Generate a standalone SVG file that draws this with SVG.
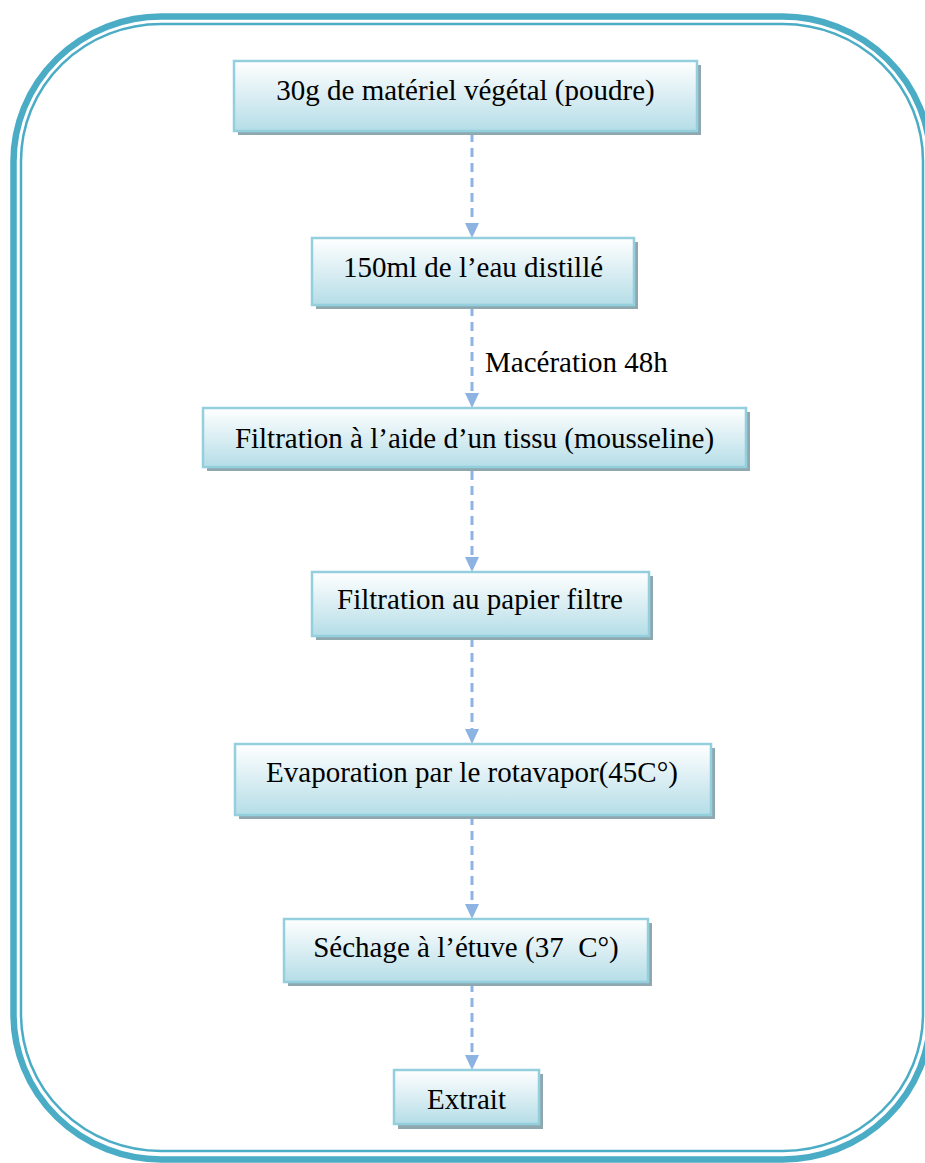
<svg xmlns="http://www.w3.org/2000/svg" width="925" height="1163" viewBox="0 0 925 1163">
  <defs>
    <linearGradient id="boxFill" x1="0" y1="0" x2="0" y2="1">
      <stop offset="0" stop-color="#ffffff"/>
      <stop offset="1" stop-color="#b5dde7"/>
    </linearGradient>
    <style>
      .frame-outer { fill: none; stroke: #4bacc6; stroke-width: 6.5; }
      .frame-inner { fill: none; stroke: #4bacc6; stroke-width: 2.5; }
      .shadow { fill: #8fa8b0; }
      .box { fill: url(#boxFill); stroke: #93cfdd; stroke-width: 2.5; }
      .label { font-family: "Liberation Serif", "Times New Roman", serif; font-size: 29px; fill: #000000; text-anchor: middle; }
      .edge-label { font-family: "Liberation Serif", "Times New Roman", serif; font-size: 29px; fill: #000000; }
      .conn { stroke: #8db3e2; stroke-width: 3; stroke-dasharray: 9 6; fill: none; }
      .head { fill: #8db3e2; }
    </style>
  </defs>
  <rect width="925" height="1163" fill="#ffffff"/>

  <g id="frame">
    <rect class="frame-outer" x="13.5" y="16.5" width="917" height="1143" rx="148" ry="145"/>
    <rect class="frame-inner" x="21" y="24" width="902" height="1127" rx="140" ry="137"/>
  </g>

  <g id="connectors">
    <line class="conn" x1="472" y1="133" x2="472" y2="223"/>
    <path class="head" d="M465,223 L479,223 L472,238 Z"/>
    <line class="conn" x1="472" y1="307" x2="472" y2="393"/>
    <path class="head" d="M465,393 L479,393 L472,408 Z"/>
    <line class="conn" x1="472" y1="471" x2="472" y2="557"/>
    <path class="head" d="M465,557 L479,557 L472,572 Z"/>
    <line class="conn" x1="472" y1="638" x2="472" y2="729"/>
    <path class="head" d="M465,729 L479,729 L472,744 Z"/>
    <line class="conn" x1="472" y1="816" x2="472" y2="904"/>
    <path class="head" d="M465,904 L479,904 L472,919 Z"/>
    <line class="conn" x1="472" y1="983" x2="472" y2="1055"/>
    <path class="head" d="M465,1055 L479,1055 L472,1070 Z"/>
    <text class="edge-label" x="485" y="372">Macération 48h</text>
  </g>

  <g id="node1">
    <rect class="shadow" x="238" y="65" width="463" height="70"/>
    <rect class="box" x="234" y="61" width="463" height="70"/>
    <text class="label" x="465.5" y="100">30g de matériel végétal (poudre)</text>
  </g>

  <g id="node2">
    <rect class="shadow" x="316" y="242" width="322" height="67"/>
    <rect class="box" x="312" y="238" width="322" height="67"/>
    <text class="label" x="473" y="277">150ml de l’eau distillé</text>
  </g>

  <g id="node3">
    <rect class="shadow" x="207" y="412" width="543" height="59"/>
    <rect class="box" x="203" y="408" width="543" height="59"/>
    <text class="label" x="474.5" y="448">Filtration à l’aide d’un tissu (mousseline)</text>
  </g>

  <g id="node4">
    <rect class="shadow" x="316" y="576" width="337" height="64"/>
    <rect class="box" x="312" y="572" width="337" height="64"/>
    <text class="label" x="480" y="609">Filtration au papier filtre</text>
  </g>

  <g id="node5">
    <rect class="shadow" x="239" y="748" width="476" height="71"/>
    <rect class="box" x="235" y="744" width="476" height="71"/>
    <text class="label" x="472" y="782">Evaporation par le rotavapor(45C°)</text>
  </g>

  <g id="node6">
    <rect class="shadow" x="288" y="923" width="364" height="63"/>
    <rect class="box" x="284" y="919" width="364" height="63"/>
    <text class="label" x="466" y="957" xml:space="preserve">Séchage à l’étuve (37  C°)</text>
  </g>

  <g id="node7">
    <rect class="shadow" x="398" y="1074" width="145" height="55"/>
    <rect class="box" x="394" y="1070" width="145" height="54"/>
    <text class="label" x="466.5" y="1109">Extrait</text>
  </g>
</svg>
